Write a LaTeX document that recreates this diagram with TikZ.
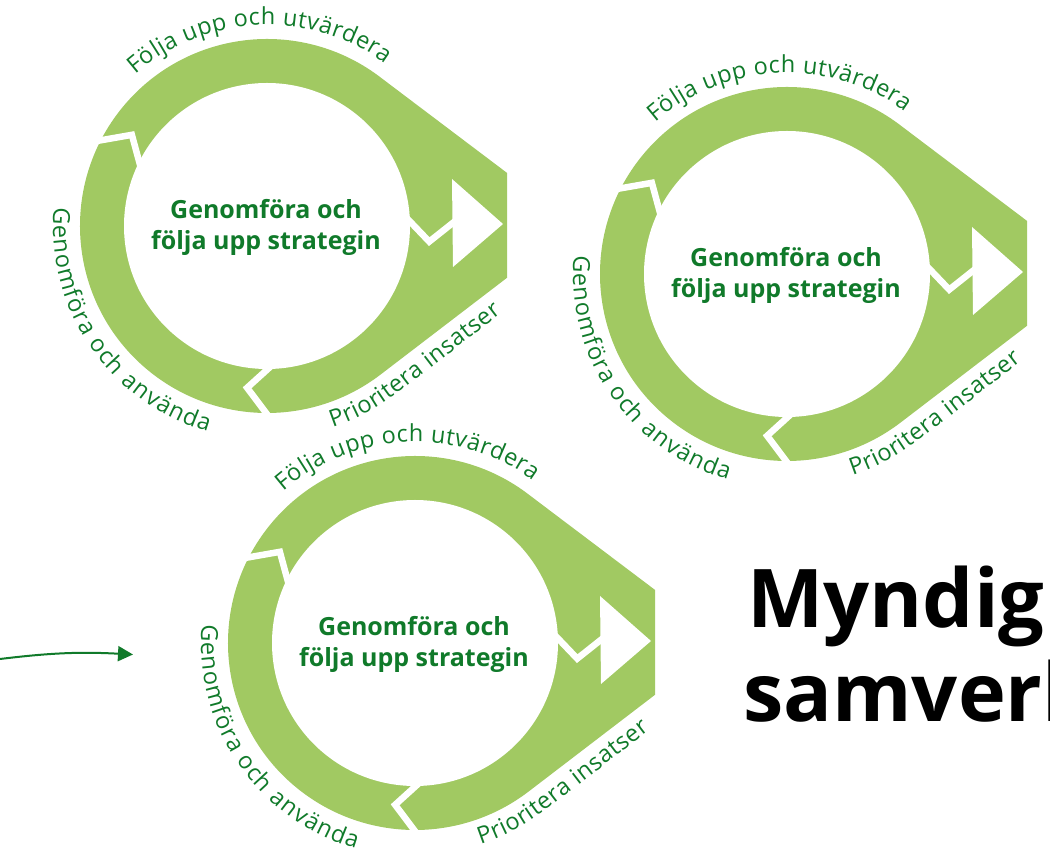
\documentclass[tikz,border=0pt]{standalone}
\usepackage{fontspec}
\setmainfont{Open Sans}
\usepackage{xcolor}
\usepackage{tikz}
\usetikzlibrary{arrows.meta,decorations.text,positioning}

\definecolor{ringgreen}{RGB}{161,201,98}
\definecolor{textgreen}{RGB}{16,122,42}
\newcommand{\lblfont}{\fontsize{23.5}{24}\selectfont}

\begin{document}
\begin{tikzpicture}[x=1pt, y=1pt,
    ring/.style={fill=ringgreen},
    gap/.style={draw=white, line width=6.5pt, miter limit=10},
    midtext/.style={text=textgreen, font=\bfseries\fontsize{25}{31}\selectfont, align=center, inner sep=0pt},
    arclabel/.style={decorate, decoration={text along path, text align={fit to path}, text color=textgreen}},
    title/.style={anchor=base west, inner sep=0pt, font=\bfseries\fontsize{81}{94}\selectfont},
    pointer/.style={draw=textgreen, line width=2pt, -{Triangle[length=15pt, width=15pt]}}]
    % Page
    \useasboundingbox (0,0) rectangle (1050,865);
    \clip (0,0) rectangle (1050,865);

    % The cycle, three times
    \foreach \cx/\cy/\n in {267/639/1, 787/591/2, 415/222/3}{
      \begin{scope}[shift={(\cx,\cy)}]
        \clip (-265,-260) rectangle (240,262);
        % Ring, drawn out to an arrow on the right
        \fill[ring] (52:187) arc (52:307:187) -- (309,1) -- cycle;
        \fill[white] (0,0) circle (143);
        % Gaps between the three arrows
        \draw[gap] (155.5:200) -- (146:163) -- (159:132);
        \draw[gap] (-87.5:200) -- (-97:163) -- (-84:132);
        \draw[gap] (4:200) -- (-5.5:163) -- (7.5:132);
        \fill[white] (185,47) -- (236,2) -- (186,-41) -- cycle;
        % Labels
        \node[midtext] (mid\n) at (-1,-1) {Genomföra och\\följa upp strategin};
        \path[arclabel, decoration={text={|\lblfont|Följa upp och utvärdera}}]
          (131:201) arc (131:54:201);
        \path[arclabel, decoration={text={|\lblfont|Genomföra och använda}}]
          (175:214) arc (175:254:214);
        \path[arclabel, decoration={text={|\lblfont|Prioritera insatser}}]
          (-72:212) arc (-72:-53:212) -- (235,-87);
      \end{scope}
    }

    % Title
    \node[title] (title1) at (747,237) {Myndig};
    \node[title] (title2) at (743,143) {samverk};

    % Arrow from the left
    \coordinate (start) at (0,206);
    \coordinate (tip) at (133,210.5);
    \draw[pointer] (start) to[bend left=5] (tip);
\end{tikzpicture}
\end{document}
